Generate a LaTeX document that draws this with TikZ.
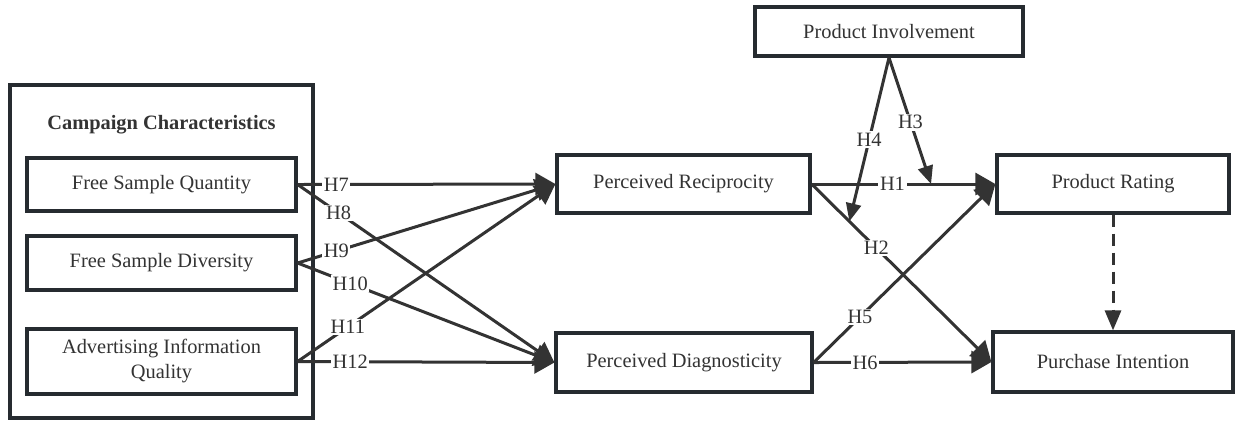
\documentclass[tikz,border=0pt]{standalone}
\usepackage{fontspec}
\setmainfont{Liberation Serif}
\usetikzlibrary{arrows.meta,calc}
\definecolor{boxc}{HTML}{262B30}
\definecolor{linec}{HTML}{333333}
\definecolor{txtc}{HTML}{333333}
\tikzset{
  vbox/.style={draw=boxc,line width=1.6pt,fill=white,inner sep=0pt,text=txtc,font=\fontsize{10.2}{12.5}\selectfont,align=center},
  conn/.style={draw=linec,line width=1.5pt,-{Triangle[length=10pt,width=11pt]}},
  modconn/.style={draw=linec,line width=1.5pt,-{Triangle[length=9pt,width=7.5pt]}},
  hlab/.style={fill=white,inner sep=0.8pt,text=txtc,font=\fontsize{10.2}{12}\selectfont}
}
\begin{document}
\begin{tikzpicture}[x=0.5pt,y=-0.5pt]
\useasboundingbox (0,0) rectangle (1236,420);
% outer group
\node[vbox,minimum width=151.5pt,minimum height=166.5pt] (grp) at (161.5,251.5) {};
\node[font=\bfseries\fontsize{10.2}{12.5}\selectfont,text=txtc] (title) at (161.5,125) {Campaign Characteristics};
% left boxes
\node[vbox,minimum width=134.5pt,minimum height=26.5pt] (fsq) at (161.5,184.5) {Free Sample Quantity};
\node[vbox,minimum width=134.5pt,minimum height=27pt] (fsd) at (161.5,263) {Free Sample Diversity};
\node[vbox,minimum width=134.5pt,minimum height=32.5pt] (aiq) at (161.5,361.5) {Advertising Information\\Quality};
% middle
\node[vbox,minimum width=126.5pt,minimum height=29pt] (pr) at (683.5,184) {Perceived Reciprocity};
\node[vbox,minimum width=128pt,minimum height=29.5pt] (pd) at (684,362.5) {Perceived Diagnosticity};
% top
\node[vbox,minimum width=134pt,minimum height=24.5pt] (inv) at (889,31.5) {Product Involvement};
% right
\node[vbox,minimum width=116pt,minimum height=29pt] (rat) at (1113,184) {Product Rating};
\node[vbox,minimum width=120pt,minimum height=30pt] (pin) at (1113,362) {Purchase Intention};
% left-to-middle paths
\draw[conn] (fsq.east) -- node[hlab,pos=0.15]{H7} (pr.west);
\draw[conn] (fsq.east) -- node[hlab,pos=0.16]{H8} (pd.west);
\draw[conn] (fsd.east) -- node[hlab,pos=0.15]{H9} (pr.west);
\draw[conn] (fsd.east) -- node[hlab,pos=0.205]{H10} (pd.west);
\draw[conn] (aiq.east) -- node[hlab,pos=0.195]{H11} (pr.west);
\draw[conn] (aiq.east) -- node[hlab,pos=0.205]{H12} (pd.west);
% middle-to-right
\draw[conn] (pr.east) -- node[hlab,pos=0.44]{H1} (rat.west);
\draw[conn] (pr.east) -- node[hlab,pos=0.36]{H2} (pin.west);
\draw[conn] (pd.east) -- node[hlab,pos=0.255]{H5} (rat.west);
\draw[conn] (pd.east) -- node[hlab,pos=0.29]{H6} (pin.west);
% moderation
\coordinate (m1) at ($(pr.east)!0.65!(rat.west)$);
\coordinate (m2) at ($(pr.east)!0.21!(pin.west)$);
\draw[modconn] (inv.south) -- node[hlab,pos=0.51]{H3} (m1);
\draw[modconn] (inv.south) -- node[hlab,pos=0.5]{H4} (m2);
% dashed
\draw[conn,dash pattern=on 6pt off 3.5pt,-{Triangle[length=10pt,width=8pt]}] (rat.south) -- (pin.north);
\end{tikzpicture}
\end{document}
